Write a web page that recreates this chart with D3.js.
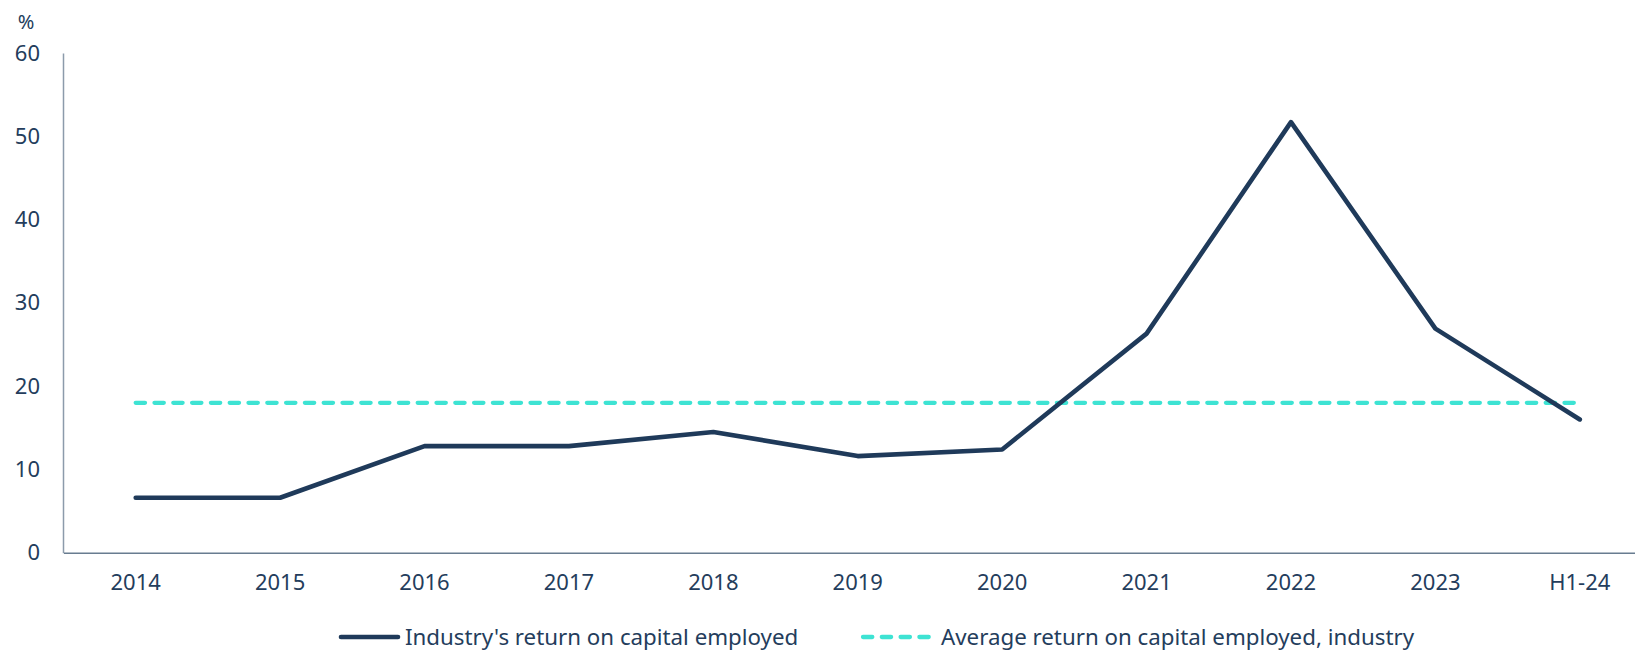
<!DOCTYPE html>
<html>
<head>
<meta charset="utf-8">
<script src="https://cdn.jsdelivr.net/npm/d3@7"></script>
<style>
  html, body { margin: 0; padding: 0; background: #fff; }
  svg { display: block; font-family: "Noto Sans", sans-serif; }
</style>
</head>
<body>
<div id="stage"></div>
<script>
const categories = ["2014", "2015", "2016", "2017", "2018", "2019", "2020", "2021", "2022", "2023", "H1-24"];
const roceValues = [6.6, 6.6, 12.8, 12.8, 14.5, 11.6, 12.4, 26.3, 51.7, 26.9, 16.0];
const averageRoce = 18.0;
const yTicks = [0, 10, 20, 30, 40, 50, 60];
const seriesNames = ["Industry's return on capital employed", "Average return on capital employed, industry"];

const width = 1635;
const height = 652;
const navy = "#1f3a5a";
const teal = "#3ee3d3";
const textClr = "#243d5c";

const svg = d3.select("#stage").append("svg")
  .attr("width", width)
  .attr("height", height);

const x = d3.scaleBand().domain(categories).range([63.5, 1652]);
const y = d3.scaleLinear().domain([0, 60]).range([552.7, 53]);
const cx = d => x(d) + x.bandwidth() / 2;

// y axis
const yAxis = svg.append("g")
  .attr("transform", "translate(63,0)")
  .call(d3.axisLeft(y).tickValues(yTicks).tickSize(0).tickPadding(23));
yAxis.select(".domain").attr("stroke", "#8c9bab").attr("stroke-width", 1.5);
yAxis.selectAll("text")
  .attr("fill", textClr)
  .attr("font-size", 22)
  .attr("font-family", "Noto Sans, sans-serif");

// x axis
const xAxis = svg.append("g")
  .attr("transform", `translate(0,${y(0)})`)
  .call(d3.axisBottom(x).tickSize(0).tickPadding(22));
xAxis.select(".domain").attr("stroke", "#687c90").attr("stroke-width", 1.5);
xAxis.selectAll("text")
  .attr("fill", textClr)
  .attr("font-size", 22)
  .attr("font-family", "Noto Sans, sans-serif");

svg.append("text")
  .attr("x", 26)
  .attr("y", 29)
  .attr("text-anchor", "middle")
  .attr("fill", textClr)
  .attr("font-size", 20)
  .text("%");

// average line
const avgLine = d3.line()
  .x(d => cx(d))
  .y(() => y(averageRoce));

svg.append("path")
  .attr("d", avgLine([categories[0], categories[categories.length - 1]]))
  .attr("fill", "none")
  .attr("stroke", teal)
  .attr("stroke-width", 4.3)
  .attr("stroke-linecap", "round")
  .attr("stroke-dasharray", "9.3,9.5");

// main series
const line = d3.line()
  .x((d, i) => cx(categories[i]))
  .y(d => y(d));

svg.append("path")
  .attr("d", line(roceValues))
  .attr("fill", "none")
  .attr("stroke", navy)
  .attr("stroke-width", 4.6)
  .attr("stroke-linejoin", "round")
  .attr("stroke-linecap", "round");

// legend
const legendY = 637;
const legend = svg.append("g");

legend.append("line")
  .attr("x1", 341).attr("x2", 398)
  .attr("y1", legendY).attr("y2", legendY)
  .attr("stroke", navy)
  .attr("stroke-width", 4.6)
  .attr("stroke-linecap", "round");
legend.append("text")
  .attr("x", 405)
  .attr("y", legendY)
  .attr("dy", "0.35em")
  .attr("fill", textClr)
  .attr("font-size", 22.3)
  .text(seriesNames[0]);

legend.append("line")
  .attr("x1", 863).attr("x2", 934)
  .attr("y1", legendY).attr("y2", legendY)
  .attr("stroke", teal)
  .attr("stroke-width", 4.3)
  .attr("stroke-linecap", "round")
  .attr("stroke-dasharray", "9.3,9.5");
legend.append("text")
  .attr("x", 941)
  .attr("y", legendY)
  .attr("dy", "0.35em")
  .attr("fill", textClr)
  .attr("font-size", 22.3)
  .text(seriesNames[1]);
</script>
</body>
</html>
